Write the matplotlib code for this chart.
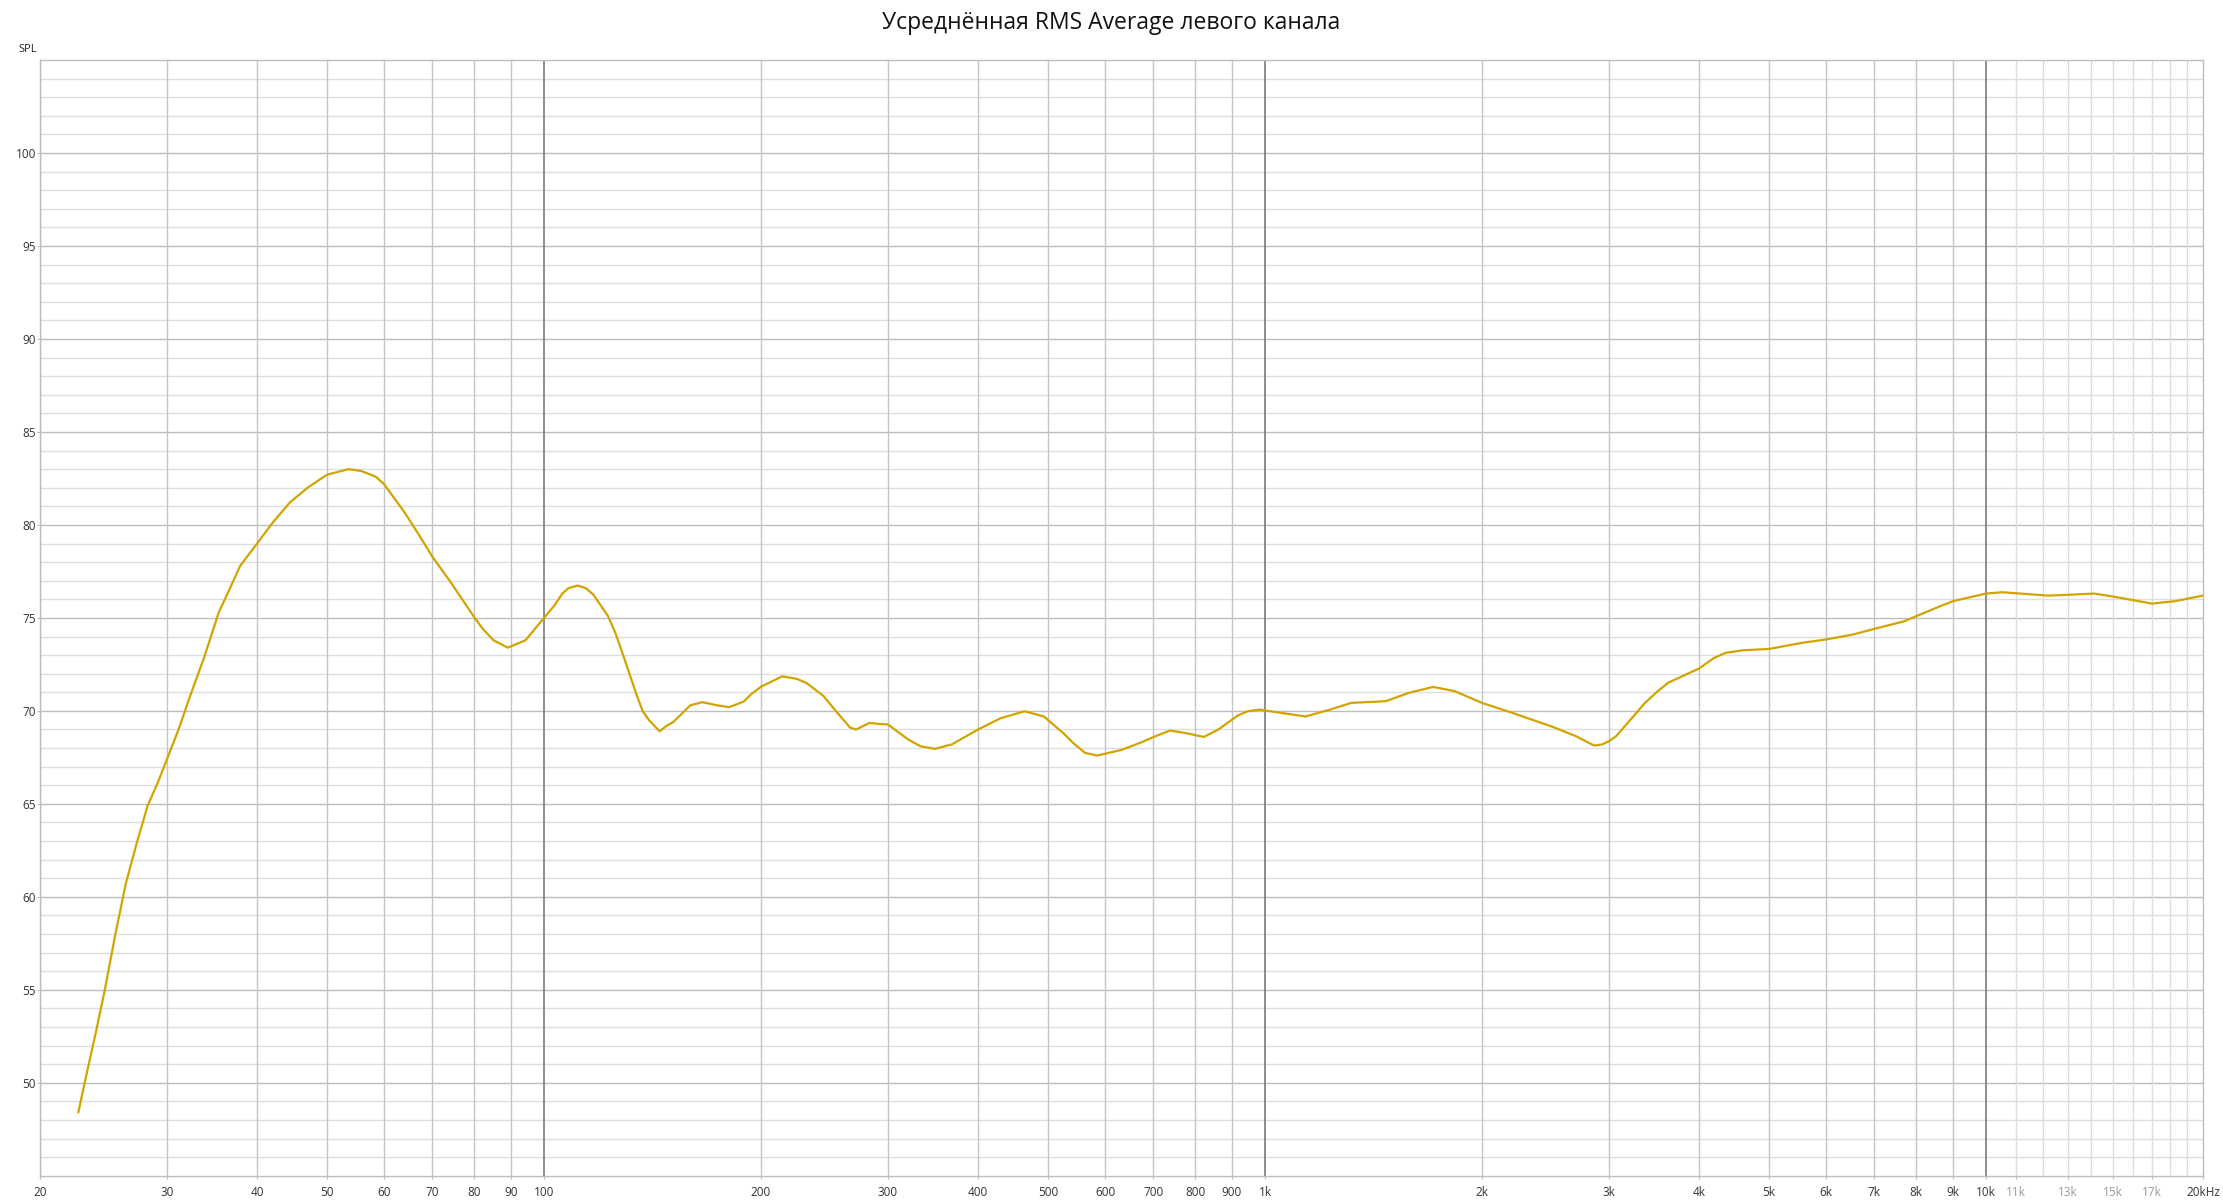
import matplotlib
matplotlib.use("Agg")
import matplotlib.pyplot as plt
from matplotlib.ticker import FixedLocator, NullLocator

plt.rcParams['font.family'] = ['Open Sans', 'DejaVu Sans']

title = "Усреднённая RMS Average левого канала"

# frequency response (Hz, dB SPL)
freq = [22.6, 23.2, 23.9, 24.6, 25.4, 26.3, 27.2, 28.2, 29.1, 30, 31.2, 32.3, 33.8,
        35.4, 36.6, 37.9, 40, 42.0, 44.4, 47.0, 50, 53.6, 55.8, 58.4, 60, 64, 67.0,
        70, 74.3, 80, 82.3, 85.1, 89.1, 94.3, 100, 103.4, 106, 108.1, 111.4, 114.3,
        117.1, 122.7, 125.6, 128.5, 131.5, 134.6, 137.1, 139.9, 144.7, 147.7, 151.1,
        159.6, 165.8, 173.8, 180.6, 189.2, 193.6, 200, 214.1, 224.3, 231.3, 244.2,
        253.9, 265.9, 270.9, 282.8, 291.7, 300, 320.1, 332.8, 348.6, 368, 400, 429.5,
        464.1, 493.6, 525.3, 541.8, 563.1, 585.3, 632.4, 672.9, 704.9, 738.3, 773.4,
        822.8, 861.8, 916.9, 945.8, 983.1, 1054, 1138.7, 1224, 1317.5, 1471, 1583,
        1711, 1834, 2000, 2205, 2330, 2507, 2700, 2800, 2862, 2932, 3000, 3070, 3157,
        3244, 3366, 3492, 3623, 4000, 4197, 4355, 4601, 5000, 5557, 6000, 6527, 7000,
        7702, 8000, 8590, 9000, 9428, 10000, 10530, 11130, 12200, 13130, 14130, 15210,
        16990, 18280, 20000]
spl = [48.4, 50.45, 52.7, 55.0, 57.85, 60.7, 62.8, 64.9, 66.1, 67.4, 69.1, 70.8, 72.9,
       75.3, 76.5, 77.8, 79.0, 80.1, 81.2, 82.0, 82.7, 83.0, 82.9, 82.6, 82.2, 80.7, 79.5,
       78.3, 76.9, 75.05, 74.4, 73.8, 73.4, 73.8, 75.0, 75.67, 76.3, 76.6, 76.74, 76.6,
       76.25, 75.1, 74.2, 73.1, 71.95, 70.8, 69.98, 69.5, 68.9, 69.18, 69.4, 70.3, 70.47,
       70.3, 70.2, 70.5, 70.88, 71.3, 71.86, 71.72, 71.5, 70.8, 70.0, 69.1, 69.0, 69.35,
       69.3, 69.27, 68.46, 68.1, 67.96, 68.2, 69.0, 69.6, 69.98, 69.7, 68.8, 68.28, 67.74,
       67.6, 67.9, 68.3, 68.64, 68.94, 68.82, 68.6, 69.0, 69.75, 69.98, 70.07, 69.89,
       69.7, 70.04, 70.43, 70.52, 70.97, 71.29, 71.06, 70.43, 69.89, 69.57, 69.14, 68.64,
       68.32, 68.14, 68.19, 68.37, 68.64, 69.18, 69.71, 70.43, 71.0, 71.51, 72.28, 72.85,
       73.12, 73.26, 73.33, 73.66, 73.84, 74.1, 74.41, 74.82, 75.09, 75.59, 75.9, 76.08,
       76.31, 76.38, 76.31, 76.2, 76.25, 76.31, 76.11, 75.77, 75.9, 76.2]

x_ticks = [20, 30, 40, 50, 60, 70, 80, 90, 100, 200, 300, 400, 500, 600, 700, 800, 900,
           1000, 2000, 3000, 4000, 5000, 6000, 7000, 8000, 9000, 10000, 11000, 13000,
           15000, 17000, 20000]
x_labels = ["20", "30", "40", "50", "60", "70", "80", "90", "100", "200", "300", "400",
            "500", "600", "700", "800", "900", "1k", "2k", "3k", "4k", "5k", "6k", "7k",
            "8k", "9k", "10k", "11k", "13k", "15k", "17k", "20kHz"]
faint_labels = ["11k", "13k", "15k", "17k"]
y_ticks = [50, 55, 60, 65, 70, 75, 80, 85, 90, 95, 100]

fig = plt.figure(figsize=(22.23, 12.01), dpi=100)
ax = fig.add_axes([0.018, 0.021, 0.973, 0.929])

# grid: horizontal every dB, stronger every 5 dB
for v in range(46, 105):
    c = '#bdbdbd' if v % 5 == 0 else '#dedede'
    ax.axhline(v, color=c, lw=1.0, zorder=1)
# vertical grid
for d in [10, 100, 1000]:
    for m in range(2, 10):
        f = d * m
        if f < 20:
            continue
        ax.axvline(f, color='#c4c4c4', lw=1.0, zorder=1)
for f in [100, 1000, 10000]:
    ax.axvline(f, color='#7a7a7a', lw=1.2, zorder=2)
for f in range(11000, 20000, 1000):
    ax.axvline(f, color='#dcdcdc', lw=1.0, zorder=1)

ax.plot(freq, spl, color='#d2a400', lw=1.6, zorder=5,
        solid_joinstyle='round', solid_capstyle='round')

ax.set_xscale('log')
ax.set_xlim(20, 20000)
ax.set_ylim(45, 105)
ax.xaxis.set_major_locator(FixedLocator(x_ticks))
ax.xaxis.set_minor_locator(NullLocator())
ax.set_xticklabels(x_labels)
ax.set_yticks(y_ticks)
ax.set_yticklabels([str(v) for v in y_ticks])
ax.tick_params(axis='both', length=2, width=0.8, color='#bdbdbd', labelsize=8.5,
               labelcolor='#333333')
ax.tick_params(axis='x', pad=5)
ax.tick_params(axis='y', pad=1)
for lbl in ax.get_xticklabels():
    if lbl.get_text() in faint_labels:
        lbl.set_color('#999999')

for s in ax.spines.values():
    s.set_color('#bdbdbd')
    s.set_linewidth(1.0)

fig.text(0.5, 0.981, title, ha='center', va='center', fontsize=16.5, color='#111111')
fig.text(0.0085, 0.959, "SPL", ha='left', va='center', fontsize=8, color='#222222')

fig.savefig("out.png", dpi=100)
